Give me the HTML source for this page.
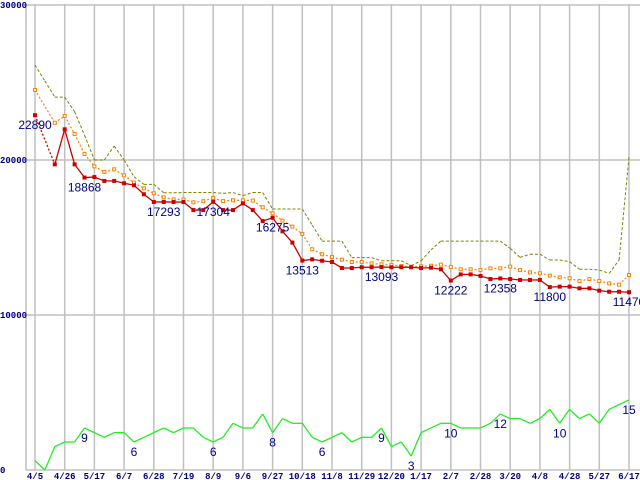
<!DOCTYPE html>
<html><head><meta charset="utf-8"><style>
html,body{margin:0;padding:0;background:#fff;}
svg{display:block;}
.yl{font-family:"Liberation Mono",monospace;font-size:9px;font-weight:bold;fill:#000080;}
.xl{font-family:"Liberation Mono",monospace;font-size:9px;font-weight:bold;fill:#000080;}
.vl{font-family:"Liberation Sans",sans-serif;font-size:12px;fill:#000080;}
</style></head><body>
<svg id="chart" width="640" height="480" viewBox="0 0 640 480"></svg>
<script>
const xLabels=["4/5","4/26","5/17","6/7","6/28","7/19","8/9","9/6","9/27","10/18","11/8","11/29","12/20","1/17","2/7","2/28","3/20","4/8","4/28","5/27","6/17"];
const yTicks=[0,10000,20000,30000];
const redVals=[22890,null,19720,21980,19720,18868,18900,18650,18650,18500,18370,17790,17290,17293,17290,17290,16770,16770,17304,16770,16770,17200,16770,16060,16275,15400,14670,13513,13590,13500,13420,13030,13030,13080,13080,13093,13080,13080,13080,13030,13050,12950,12222,12620,12620,12520,12320,12358,12320,12260,12260,12260,11800,11830,11830,11720,11720,11570,11500,11500,11470];
const orangeVals=[24520,null,22400,22840,21680,20390,19590,19230,19400,19010,18540,18170,17850,17590,17460,17460,17270,17340,17550,17350,17400,17400,17380,16950,16560,16090,15700,15230,14240,13920,13740,13570,13420,13420,13330,13270,13230,13160,13120,13140,13180,13250,13100,12950,12950,12900,13010,13010,13120,12900,12750,12690,12540,12430,12370,12190,12320,12190,12040,11960,12580];
const oliveVals=[26130,25100,24060,24060,23120,21600,20000,20000,20900,20000,18920,18430,18430,17890,17890,17900,17900,17900,17900,17850,17900,17700,17900,17900,16840,16840,16840,16840,15800,14770,14770,14770,13700,13700,13700,13500,13500,13500,13180,13500,14200,14770,14770,14770,14770,14770,14770,14770,14300,13720,13920,13920,13550,13550,13440,12950,12950,12900,12690,13550,20200];
const greenVals=[2,0,5,6,6,9,8,7,8,8,6,7,8,9,8,9,9,7,6,7,10,9,9,12,8,11,10,10,7,6,7,8,6,7,7,9,5,6,3,8,9,10,10,9,9,9,10,12,11,11,10,11,13,10,13,11,12,10,13,14,15];
const redLabelIdx=[0,5,13,18,24,27,35,42,47,52,60];
const greenLabelIdx=[5,10,18,24,29,35,38,42,47,53,60];

const NS="http://www.w3.org/2000/svg";
const svg=document.getElementById('chart');
const X=i=>35+i*9.9;
const Y=v=>470-v*0.0155;
const YG=v=>470-v*4.67;
function mk(tag,attrs,parent){const e=document.createElementNS(NS,tag);for(const k in attrs)e.setAttribute(k,attrs[k]);(parent||svg).appendChild(e);return e;}

const grid=mk('g',{});


yTicks.forEach(t=>{const l=mk('line',{x1:25.5,x2:640,y1:Y(t),y2:Y(t),stroke:'#c0c0c0','stroke-width':1.5},grid);


const tx=mk('text',{x:0,y:Y(t)+3,class:'yl'},svg);tx.textContent=String(t);

});
mk('line',{x1:26,x2:26,y1:4,y2:470,stroke:'#c0c0c0','stroke-width':1.5},grid);
xLabels.forEach((s,k)=>{const x=X(k*3);const l=mk('line',{x1:x,x2:x,y1:4,y2:470,stroke:'#c0c0c0','stroke-width':1.5},grid);


const tx=mk('text',{x:x,y:479,'text-anchor':'middle',class:'xl'});tx.textContent=s;

});

function series(vals,yf,color,dash,width,name){
  const g=mk('g',{});
  
  
  let prev=-1;
  for(let i=0;i<vals.length;i++){
    if(vals[i]==null)continue;
    if(prev>=0){
      const gap=i-prev>1;
      mk('line',{x1:X(prev),y1:yf(vals[prev]),x2:X(i),y2:yf(vals[i]),stroke:color,'stroke-width':width,'stroke-dasharray':gap?'2,2':dash},g);
    }
    prev=i;
  }
  return g;
}
series(oliveVals,Y,'#808000','3,2',1,'olive-series');
const og=series(orangeVals,Y,'#ff8000','2,2',1.2,'orange-series');
orangeVals.forEach((v,i)=>{if(v==null)return;const r=mk('rect',{x:X(i)-1.5,y:Y(v)-1.5,width:3,height:3,fill:'#fff',stroke:'#ff8000','stroke-width':1},og);

});
const rg=series(redVals,Y,'#cc0000','',1.3,'red-series');
redVals.forEach((v,i)=>{if(v==null)return;const r=mk('rect',{x:X(i)-2,y:Y(v)-2,width:4,height:4,fill:'#cc0000'},rg);

});
series(greenVals,YG,'#22ee22','',1.3,'green-series');

redLabelIdx.forEach(i=>{const t=mk('text',{x:X(i),y:Y(redVals[i])+14,'text-anchor':'middle',class:'vl'});t.textContent=String(redVals[i]);

});
greenLabelIdx.forEach(i=>{const t=mk('text',{x:X(i),y:YG(greenVals[i])+14,'text-anchor':'middle',class:'vl'});t.textContent=String(greenVals[i]);

});
</script>
</body></html>
